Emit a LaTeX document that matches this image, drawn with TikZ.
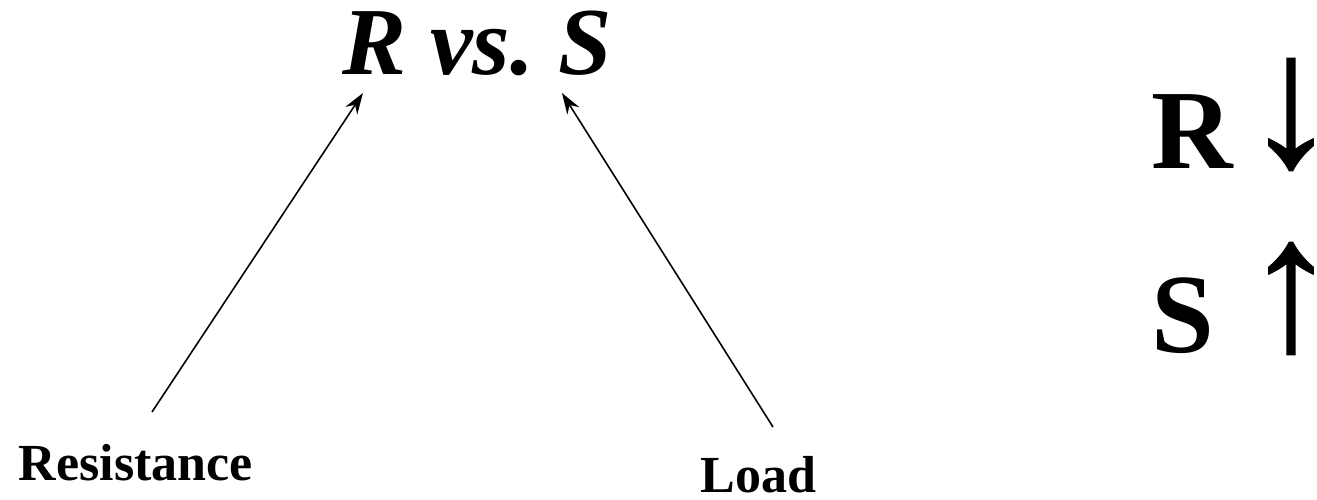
\documentclass[tikz,border=0pt]{standalone}
\usepackage{fontspec}
\setmainfont{Liberation Serif}
\newfontfamily\arrowfont{Liberation Serif}[FakeBold=0.7]
\usetikzlibrary{arrows.meta, positioning}

\begin{document}
\begin{tikzpicture}[x=0.01cm, y=-0.01cm, inner sep=0pt,
    label/.style={font=\fontsize{14.8}{17}\selectfont\bfseries, anchor=base west},
    letter/.style={font=\fontsize{32.1}{36}\selectfont\bfseries, anchor=base west},
    trend/.style={font=\arrowfont\fontsize{54}{54}\selectfont, anchor=base},
    pointer/.style={-{Stealth[length=6pt, width=4pt]}, line width=0.45pt}]
    \useasboundingbox (0,0) rectangle (1317,499);
    \node[font=\fontsize{27.3}{30}\selectfont\bfseries\itshape, anchor=base] (title) at (477,74) {R vs.\ S};
    \node[label] (res) at (18,480) {Resistance};
    \node[label] (load) at (700,492) {Load};
    % where the arrows start and end
    \coordinate (rfoot) at (152,412);
    \coordinate (rhead) at (363,93);
    \coordinate (sfoot) at (773,427);
    \coordinate (shead) at (562,93);
    \draw[pointer] (rfoot) -- (rhead);
    \draw[pointer] (sfoot) -- (shead);
    % right column
    \node[letter] (rname) at (1151,168) {R};
    \node[trend] (rdown) at (1291,165) {↓};
    \node[letter] (sname) at (1151,352) {S};
    \node[trend] (sup) at (1291,349) {↑};
\end{tikzpicture}
\end{document}
